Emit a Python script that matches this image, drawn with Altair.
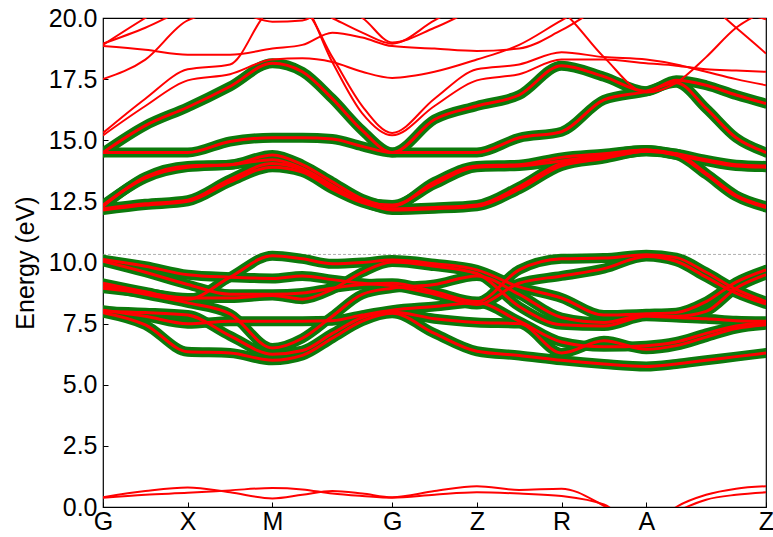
import altair as alt
import pandas as pd

# k-path sample positions (G X M G Z R A Z)
k_path = [0.0, 0.5, 1.0, 1.5, 2.0, 2.354, 2.707, 3.061, 3.414, 3.914, 4.414,
          4.914, 5.414, 5.914, 6.414, 6.768, 7.121, 7.475, 7.828]
sym_k = [0.0, 1.0, 2.0, 3.414, 4.414, 5.414, 6.414, 7.828]
sym_labels = ["G", "X", "M", "G", "Z", "R", "A", "Z"]
fermi_level = 10.33
y_ticks = [0.0, 2.5, 5.0, 7.5, 10.0, 12.5, 15.0, 17.5, 20.0]

# projected (green highlighted) bands - valence group
v1 = [10.12, 9.85, 9.50, 9.40, 9.35, 9.45, 9.30, 9.15, 9.05, 8.70, 8.28, 9.15, 9.45, 9.75, 10.25, 10.05, 9.40, 8.75, 8.30]
v2 = [10.05, 9.60, 9.10, 8.70, 8.70, 8.75, 8.95, 9.10, 9.15, 8.80, 8.40, 9.70, 10.15, 10.18, 10.32, 10.20, 9.60, 8.90, 8.40]
v3 = [9.15, 8.80, 8.50, 9.40, 10.28, 10.15, 9.95, 10.00, 10.10, 9.95, 9.70, 9.00, 8.55, 7.85, 7.90, 7.95, 8.40, 9.20, 9.70]
v4 = [9.05, 8.70, 8.35, 7.90, 6.50, 6.90, 7.80, 8.70, 8.95, 9.10, 9.45, 8.70, 7.75, 7.55, 7.85, 7.80, 8.00, 8.95, 9.50]
v5 = [8.95, 8.75, 8.55, 8.55, 8.65, 8.50, 8.90, 9.60, 10.02, 9.85, 9.55, 8.20, 7.45, 7.40, 7.80, 7.75, 7.70, 7.62, 7.60]
v6 = [8.05, 7.80, 7.50, 7.60, 7.60, 7.60, 7.62, 7.85, 8.05, 8.20, 8.35, 7.60, 6.75, 6.55, 6.60, 6.75, 7.10, 7.40, 7.55]
v7 = [7.95, 7.45, 6.35, 6.30, 6.00, 6.20, 6.90, 7.60, 7.92, 7.10, 6.37, 6.20, 6.00, 5.85, 5.75, 5.85, 6.00, 6.15, 6.30]
v8 = [8.00, 7.95, 7.85, 7.00, 6.25, 6.40, 7.10, 7.75, 7.98, 7.70, 7.55, 7.50, 6.30, 6.80, 6.45, 6.60, 6.95, 7.30, 7.45]

# projected bands - conduction group
c1 = [12.30, 13.50, 13.95, 14.00, 14.40, 14.00, 13.30, 12.60, 12.30, 13.30, 13.95, 14.00, 14.30, 14.45, 14.60, 14.45, 14.20, 14.00, 13.95]
c2 = [12.35, 13.45, 13.90, 14.00, 14.20, 13.85, 13.15, 12.50, 12.35, 13.20, 13.90, 13.95, 14.15, 14.40, 14.60, 14.40, 14.15, 13.95, 13.90]
c3 = [12.15, 12.35, 12.50, 13.30, 13.90, 13.70, 13.00, 12.45, 12.20, 12.25, 12.35, 13.10, 14.05, 14.30, 14.55, 14.45, 13.65, 12.75, 12.30]
c4 = [12.20, 12.40, 12.55, 13.40, 14.05, 13.80, 13.10, 12.50, 12.15, 12.20, 12.30, 13.00, 13.95, 14.25, 14.55, 14.40, 13.60, 12.70, 12.25]
c5 = [14.50, 14.50, 14.50, 14.95, 15.10, 15.10, 15.05, 14.75, 14.50, 14.50, 14.50, 15.10, 15.35, 16.65, 17.00, 17.35, 16.30, 15.10, 14.50]
c6 = [14.50, 15.60, 16.35, 17.20, 18.15, 17.80, 16.70, 15.40, 14.50, 15.85, 16.40, 16.85, 18.05, 17.60, 17.00, 17.45, 17.25, 16.85, 16.50]

# other bands (red only)
u1 = [18.95, 19.60, 20.40, 20.90, 21.00, 20.60, 20.00, 19.40, 18.95, 19.90, 20.80, 21.00, 21.00, 21.00, 21.00, 21.00, 20.80, 20.30, 19.95]
u2 = [18.85, 18.70, 18.50, 18.50, 18.75, 18.90, 19.40, 19.20, 18.85, 18.75, 18.65, 18.75, 19.50, 20.50, 21.00, 21.00, 20.60, 19.60, 18.55]
u3 = [17.50, 18.30, 19.90, 20.30, 19.85, 19.90, 20.50, 20.00, 19.00, 19.60, 20.40, 21.00, 20.30, 18.40, 16.95, 17.35, 18.40, 19.60, 20.30]
u4 = [15.30, 16.70, 17.90, 18.10, 20.30, 20.30, 18.40, 16.40, 15.30, 16.70, 17.90, 18.10, 18.60, 18.40, 18.30, 18.10, 17.80, 17.50, 17.25]
u5 = [15.20, 16.40, 17.45, 17.70, 18.30, 18.35, 18.20, 17.80, 17.55, 17.80, 18.30, 18.90, 19.90, 20.80, 21.00, 21.00, 21.00, 21.00, 21.00]
u6 = [18.90, 20.00, 21.00, 21.00, 21.00, 20.60, 18.20, 16.10, 15.20, 16.40, 17.45, 17.70, 18.30, 18.30, 18.15, 18.05, 17.90, 17.85, 17.80]
lo1 = [0.40, 0.65, 0.80, 0.60, 0.35, 0.50, 0.65, 0.55, 0.40, 0.65, 0.85, 0.70, 0.75, 0.05, -1.00, 0.00, 0.50, 0.75, 0.85]
lo2 = [0.38, 0.50, 0.58, 0.68, 0.78, 0.72, 0.55, 0.45, 0.38, 0.50, 0.60, 0.55, 0.45, 0.10, -0.90, -0.20, 0.30, 0.50, 0.60]

green_bands = {"v1": v1, "v2": v2, "v3": v3, "v4": v4, "v5": v5, "v6": v6, "v7": v7, "v8": v8,
               "c1": c1, "c2": c2, "c3": c3, "c4": c4, "c5": c5, "c6": c6}
plain_bands = {"u1": u1, "u2": u2, "u3": u3, "u4": u4, "u5": u5, "u6": u6, "lo1": lo1, "lo2": lo2}

rows = []
for name, vals in green_bands.items():
    for kk, e in zip(k_path, vals):
        rows.append({"band": name, "k": kk, "E": e, "proj": "yes"})
for name, vals in plain_bands.items():
    for kk, e in zip(k_path, vals):
        rows.append({"band": name, "k": kk, "E": e, "proj": "no"})
df = pd.DataFrame(rows)

codes = ",".join(str(int(round(v * 100))) for v in sym_k)
names = ",".join("'" + s + "'" for s in sym_labels)
label_expr = f"[{names}][indexof([{codes}], round(datum.value*100))]"

FONT = "Liberation Sans"

x_enc = alt.X("k:Q", scale=alt.Scale(domain=[sym_k[0], sym_k[-1]], nice=False, zero=False),
              axis=alt.Axis(values=sym_k, labelExpr=label_expr, title=None, grid=False,
                            domain=False, tickSize=5, offset=-5, labelPadding=2,
                            labelFontSize=25, labelFont=FONT, labelColor="black",
                            tickColor="black", tickWidth=1, labelFlush=False))
y_enc = alt.Y("E:Q", scale=alt.Scale(domain=[0, 20], nice=False, zero=False),
              axis=alt.Axis(values=y_ticks, format=".1f", title="Energy (eV)", grid=False,
                            domain=False, tickSize=5, offset=-5, labelPadding=6,
                            labelFontSize=25, labelFont=FONT, labelColor="black",
                            tickColor="black", tickWidth=1, titleFont=FONT, titleFontSize=25,
                            titleFontWeight="normal", titleColor="black", titlePadding=10,
                            labelFlush=False))

fermi = alt.Chart(pd.DataFrame({"E": [fermi_level]})).mark_rule(
    color="#9a9a9a", strokeWidth=0.8, strokeDash=[3, 2]).encode(y=alt.Y("E:Q"))

green = alt.Chart(df).transform_filter(alt.datum.proj == "yes").mark_line(
    color="#0c7a0c", strokeWidth=10, interpolate="monotone", clip=True, strokeCap="round"
).encode(x=x_enc, y=y_enc, detail="band:N")

red_plain = alt.Chart(df).transform_filter(alt.datum.proj == "no").mark_line(
    color="#ff0000", strokeWidth=2, interpolate="monotone", clip=True
).encode(x=x_enc, y=y_enc, detail="band:N")

red_proj = alt.Chart(df).transform_filter(alt.datum.proj == "yes").mark_line(
    color="#ff0000", strokeWidth=3, interpolate="monotone", clip=True
).encode(x=x_enc, y=y_enc, detail="band:N")

chart = alt.layer(fermi, green, red_plain, red_proj).properties(
    width=663, height=489,
    padding={"left": 103, "top": 18, "right": 7, "bottom": 30},
    autosize=alt.AutoSizeParams(type="none"),
    background="white",
).configure_view(stroke="black", strokeWidth=1.2)

chart.save("out.html", embed_options={"renderer": "svg", "actions": False})
